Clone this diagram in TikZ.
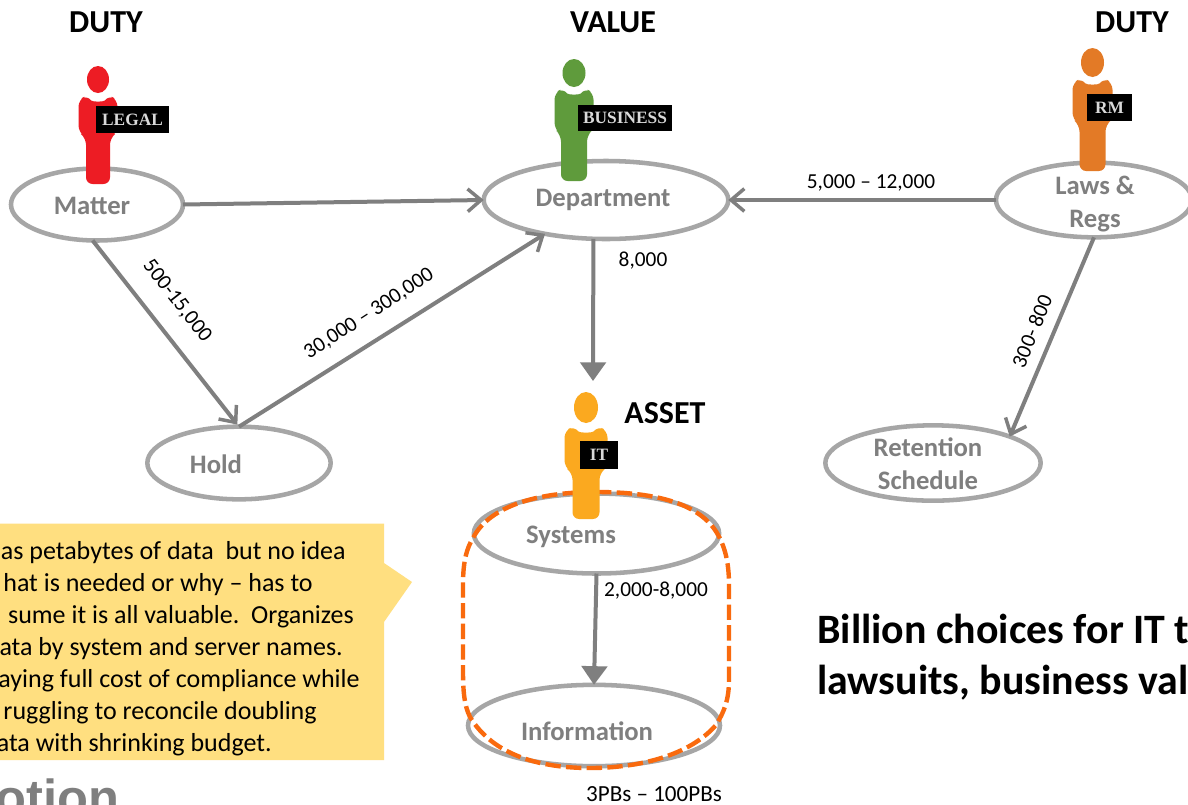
\documentclass[tikz,border=0pt]{standalone}
\usepackage{fontspec}
\setmainfont{Carlito}
\newfontfamily\slab{Liberation Serif}
\newfontfamily\logofont{Liberation Sans}
\usetikzlibrary{arrows.meta,shapes.geometric}
\definecolor{ringgray}{HTML}{A6A6A6}
\definecolor{linegray}{HTML}{7F7F7F}
\definecolor{calloutfill}{HTML}{FFDF80}
\definecolor{dashorange}{HTML}{F96A0E}
\definecolor{legalred}{HTML}{ED1C24}
\definecolor{bizgreen}{HTML}{5F9B3C}
\definecolor{rmorange}{HTML}{E37A26}
\definecolor{itamber}{HTML}{FBA91F}
\tikzset{
  x=0.75pt,y=-0.75pt,
  ring/.style={ellipse,draw=ringgray,line width=3.4pt,fill=white,inner sep=0pt,outer sep=0pt},
  ringtext/.style={font=\bfseries\fontsize{20}{24.5}\selectfont,text=linegray,align=center,inner sep=0pt},
  heading/.style={font=\bfseries\fontsize{24}{28}\selectfont,inner sep=0pt},
  small/.style={font=\fontsize{16}{19}\selectfont,inner sep=0pt},
  openarrow/.style={draw=linegray,line width=3pt,-{Straight Barb[length=10pt,width=17pt,line width=2.6pt]}},
  solidarrow/.style={draw=linegray,line width=3pt,-{Triangle[length=14pt,width=19pt]}},
  badge/.style={fill=black,text=white!85!black,inner sep=0pt,font=\slab\bfseries\fontsize{13}{15}\selectfont},
  calloutline/.style={anchor=base east,font=\fontsize{19.5}{24}\selectfont,inner sep=0pt},
  bigline/.style={anchor=base west,font=\bfseries\fontsize{31.4}{36}\selectfont,inner sep=0pt},
}
\newcommand{\personfig}[9]{%
  \fill[#1] (#2,#3/2+#5/2) ellipse ({#4*0.75pt} and {(#5-#3)*0.375pt});
  \fill[#1,rounded corners=5pt] (#2-#6,#7+5) -- (#2-0.55*#6,#7) .. controls (#2-0.3*#6,#7+7) and (#2+0.3*#6,#7+7) .. (#2+0.55*#6,#7) -- (#2+#6,#7+5) -- (#2+#6,#8-6) -- (#2+#9,#8) -- (#2+#9,#8+46) -- (#2-#9,#8+46) -- (#2-#9,#8) -- (#2-#6,#8-6) -- cycle;
}
\begin{document}
\begin{tikzpicture}
\useasboundingbox (0,0) rectangle (1188,804);
\clip (0,0) rectangle (1188,804);
\fill[white] (0,0) rectangle (1188,804);

% headings
\node[heading] (hduty1) at (106,22) {DUTY};
\node[heading] (hvalue) at (613,22) {VALUE};
\node[heading] (hduty2) at (1132,22) {DUTY};
\node[heading] (hasset) at (665,413) {ASSET};

% ellipses
\node[ring,minimum width=129pt,minimum height=54pt] (matter) at (97,204.5) {};
\node[ring,minimum width=183.5pt,minimum height=58.5pt] (dept) at (606,200) {};
\node[ring,minimum width=147pt,minimum height=56pt] (laws) at (1094,200) {};
\node[ring,minimum width=137.5pt,minimum height=54.5pt] (hold) at (239,463) {};
\node[ring,minimum width=161.5pt,minimum height=56.5pt] (retention) at (933,463) {};
\node[ring,minimum width=184pt,minimum height=60pt] (systems) at (596.5,533.5) {};
\node[ring,minimum width=189pt,minimum height=61pt] (information) at (594,725.5) {};

% dashed boundary
\draw[dashorange,line width=3.3pt,dash pattern=on 11.5pt off 4pt]
  (596,492) .. controls (660,492) and (700,505) .. (717,533)
  .. controls (724,545) and (729,560) .. (729,585)
  -- (729,680)
  .. controls (729,700) and (724,712) .. (716,725)
  .. controls (690,755) and (640,768) .. (590,768)
  .. controls (530,768) and (490,750) .. (470,717)
  .. controls (464,705) and (463,690) .. (463,670)
  -- (463,585)
  .. controls (463,560) and (467,548) .. (473,538)
  .. controls (490,505) and (540,492) .. (596,492) -- cycle;

% people
\personfig{legalred}{98}{66}{11}{93}{19.5}{95}{138}{12}
\personfig{bizgreen}{574}{59}{11.5}{87}{19.5}{88}{135}{13}
\personfig{rmorange}{1092.5}{48}{11.5}{77}{20}{78}{125}{13}
\personfig{itamber}{586}{392}{12}{423}{21.5}{426}{473}{13.5}

\node[badge,minimum width=54.7pt,minimum height=20pt] (blegal) at (132.5,119.5) {LEGAL};
\node[badge,minimum width=70.5pt,minimum height=19.5pt] (bbiz) at (625,118) {BUSINESS};
\node[badge,minimum width=33.7pt,minimum height=20pt] (brm) at (1109.5,107.5) {RM};
\node[badge,minimum width=28.5pt,minimum height=21pt] (bit) at (599,455) {IT};

% ring texts
\node[ringtext] (tmatter) at (92,206) {Matter};
\node[ringtext] (tdept) at (603,200) {Department};
\node[ringtext] (tlaws) at (1095,204) {Laws \&\\Regs};
\node[ringtext] (thold) at (216,464) {Hold};
\node[ringtext] (tret) at (928,464) {Retention\\Schedule};
\node[ringtext] (tsys) at (571,537) {Systems};
\node[ringtext] (tinfo) at (587,731) {Information};

% connectors
\coordinate (deptend) at (593,381);
\draw[openarrow] (matter.east) -- (dept.west);
\draw[openarrow] (laws.west) -- (dept.east);
\draw[openarrow,shorten >=2pt] (matter.-97) -- (hold.north);
\draw[openarrow] (hold.north) -- (dept.-151);
\draw[solidarrow] (dept.-108) -- (deptend);
\draw[openarrow] (laws.-90) -- (retention.19);
\draw[solidarrow] (systems.-90) -- (information.90);

% edge labels
\node[small] (l1) at (871,183) {5,000 – 12,000};
\node[small] (l2) at (643,261) {8,000};
\node[small,rotate=-52] (l3) at (177,301) {500-15,000};
\node[small,rotate=33] (l4) at (369,314) {30,000 – 300,000};
\node[small,rotate=68] (l5) at (1032,331) {300- 800};
\node[small] (l6) at (656,591) {2,000-8,000};
\node[small,font=\fontsize{17.3}{20}\selectfont] (l7) at (654,794) {3PBs – 100PBs};

% callout
\fill[calloutfill] (-2,523.5) -- (384,523.5) -- (384,563) -- (412,582) -- (384,622) -- (384,760) -- (-2,760) -- cycle;
\node[calloutline] (c1) at (346,559) {as petabytes of data\ \ but no idea};
\node[calloutline] (c2) at (313,591) {hat is needed or why – has to};
\node[calloutline] (c3) at (354,623) {sume it is all valuable.\ \ Organizes};
\node[calloutline] (c4) at (343,655) {ata by system and server names.};
\node[calloutline] (c5) at (360,687) {aying full cost of compliance while};
\node[calloutline] (c6) at (317,719) {ruggling to reconcile doubling};
\node[calloutline] (c7) at (272,751) {ata with shrinking budget.};

% big text
\node[bigline] (big1) at (817,643) {Billion choices for IT t};
\node[bigline] (big2) at (817,694) {lawsuits, business val};

% logo fragment
\node[anchor=base east,inner sep=0pt,text=linegray,font=\logofont\bfseries\fontsize{38}{44}\selectfont] (logo) at (120,815) {otion};
\end{tikzpicture}
\end{document}
